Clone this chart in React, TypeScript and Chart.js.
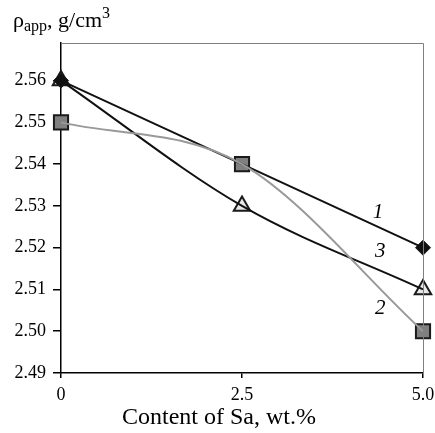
import React, { useEffect, useRef } from "react";
import { Chart, registerables } from "chart.js";

Chart.register(...registerables);

const contents = [0, 2.5, 5.0];
const series1 = [2.56, 2.54, 2.52];
const series2 = [2.55, 2.54, 2.5];
const series3 = [2.56, 2.53, 2.51];
const yTicks = [2.49, 2.5, 2.51, 2.52, 2.53, 2.54, 2.55, 2.56];
const xTicks = [0, 2.5, 5.0];
const curveLabels = [
  { text: "1", x: 4.38, y: 2.5285 },
  { text: "3", x: 4.41, y: 2.519 },
  { text: "2", x: 4.41, y: 2.5055 },
];
const xTitle = "Content of Sa, wt.%";

const SERIF = "'Liberation Serif', 'Times New Roman', serif";

const decorPlugin = {
  id: "decor",
  afterDraw(chart: any) {
    const ctx = chart.ctx;
    const { left, right, top, bottom } = chart.chartArea;
    const xs = chart.scales.x;
    const ys = chart.scales.y;
    ctx.save();
    ctx.strokeStyle = "#808080";
    ctx.lineWidth = 1;
    ctx.beginPath();
    ctx.moveTo(left, top + 0.5);
    ctx.lineTo(right + 0.5, top + 0.5);
    ctx.lineTo(right + 0.5, bottom);
    ctx.stroke();
    ctx.fillStyle = "#000";
    ctx.font = `italic 21px ${SERIF}`;
    ctx.textAlign = "center";
    ctx.textBaseline = "middle";
    curveLabels.forEach((l) => {
      ctx.fillText(l.text, xs.getPixelForValue(l.x), ys.getPixelForValue(l.y));
    });
    ctx.font = `24px ${SERIF}`;
    ctx.textBaseline = "alphabetic";
    ctx.fillText(xTitle, 219, 424);
    ctx.textAlign = "left";
    let x = 13;
    const base = 27;
    ctx.font = `22px ${SERIF}`;
    ctx.fillText("ρ", x, base);
    x += ctx.measureText("ρ").width;
    ctx.font = `16px ${SERIF}`;
    ctx.fillText("app", x, base + 4);
    x += ctx.measureText("app").width;
    ctx.font = `22px ${SERIF}`;
    ctx.fillText(", g/cm", x, base);
    x += ctx.measureText(", g/cm").width;
    ctx.font = `16px ${SERIF}`;
    ctx.fillText("3", x, base - 9);
    ctx.restore();
  },
};

export default function App() {
  const ref = useRef<HTMLCanvasElement | null>(null);
  useEffect(() => {
    document.body.style.margin = "0";
    const toPts = (arr: number[]) => arr.map((v, i) => ({ x: contents[i], y: v }));
    const lineDs = (arr: number[], color: string, smooth: boolean) => ({
      data: toPts(arr),
      showLine: true,
      borderColor: color,
      borderWidth: 2,
      cubicInterpolationMode: smooth ? "monotone" : "default",
      tension: 0,
      pointRadius: 0,
      clip: false,
    });
    const pointDs = (arr: number[], style: string, r: number, fill: string, bw: number) => ({
      data: toPts(arr),
      showLine: false,
      pointStyle: style,
      pointRadius: r,
      pointBackgroundColor: fill,
      pointBorderColor: "#1a1a1a",
      pointBorderWidth: bw,
      clip: false,
    });
    const chart = new Chart(ref.current as HTMLCanvasElement, {
      type: "scatter",
      data: {
        datasets: [
          lineDs(series2, "#999999", true),
          lineDs(series1, "#111", false),
          lineDs(series3, "#111", true),
          pointDs(series2, "rect", 10, "#808080", 2),
          pointDs(series1, "rectRot", 7.5, "#111", 1),
          pointDs(series3, "triangle", 9.5, "#e8e8e8", 2),
        ],
      },
      options: {
        animation: false,
        responsive: false,
        layout: { padding: { top: 43, right: 0, left: 0, bottom: 0 } },
        plugins: { legend: { display: false }, tooltip: { enabled: false } },
        scales: {
          x: {
            type: "linear",
            min: 0,
            max: 5,
            afterBuildTicks: (s: any) => {
              s.ticks = xTicks.map((v) => ({ value: v }));
            },
            afterFit: (s: any) => {
              s.height = 60;
              s.paddingRight = 9;
            },
            ticks: {
              color: "#000",
              font: { family: SERIF, size: 18 },
              padding: 6,
              maxRotation: 0,
              callback: (v: any) => (v === 0 ? "0" : Number(v).toFixed(1)),
            },
            grid: { drawOnChartArea: false, drawTicks: true, tickLength: 5, color: "#000", lineWidth: 1.5 },
            border: { display: true, color: "#000", width: 1.5 },
          },
          y: {
            type: "linear",
            min: 2.49,
            max: 2.569,
            afterBuildTicks: (s: any) => {
              s.ticks = yTicks.map((v) => ({ value: v }));
            },
            afterFit: (s: any) => {
              s.width = 61;
            },
            ticks: {
              color: "#000",
              font: { family: SERIF, size: 18 },
              padding: 7,
              callback: (v: any) => Number(v).toFixed(2),
            },
            grid: { drawOnChartArea: false, drawTicks: true, tickLength: 8, color: "#000", lineWidth: 1.5 },
            border: { display: true, color: "#000", width: 1.5 },
          },
        },
      },
      plugins: [decorPlugin],
    } as any);
    return () => chart.destroy();
  }, []);
  return <canvas ref={ref} width={435} height={433} style={{ display: "block" }} />;
}
